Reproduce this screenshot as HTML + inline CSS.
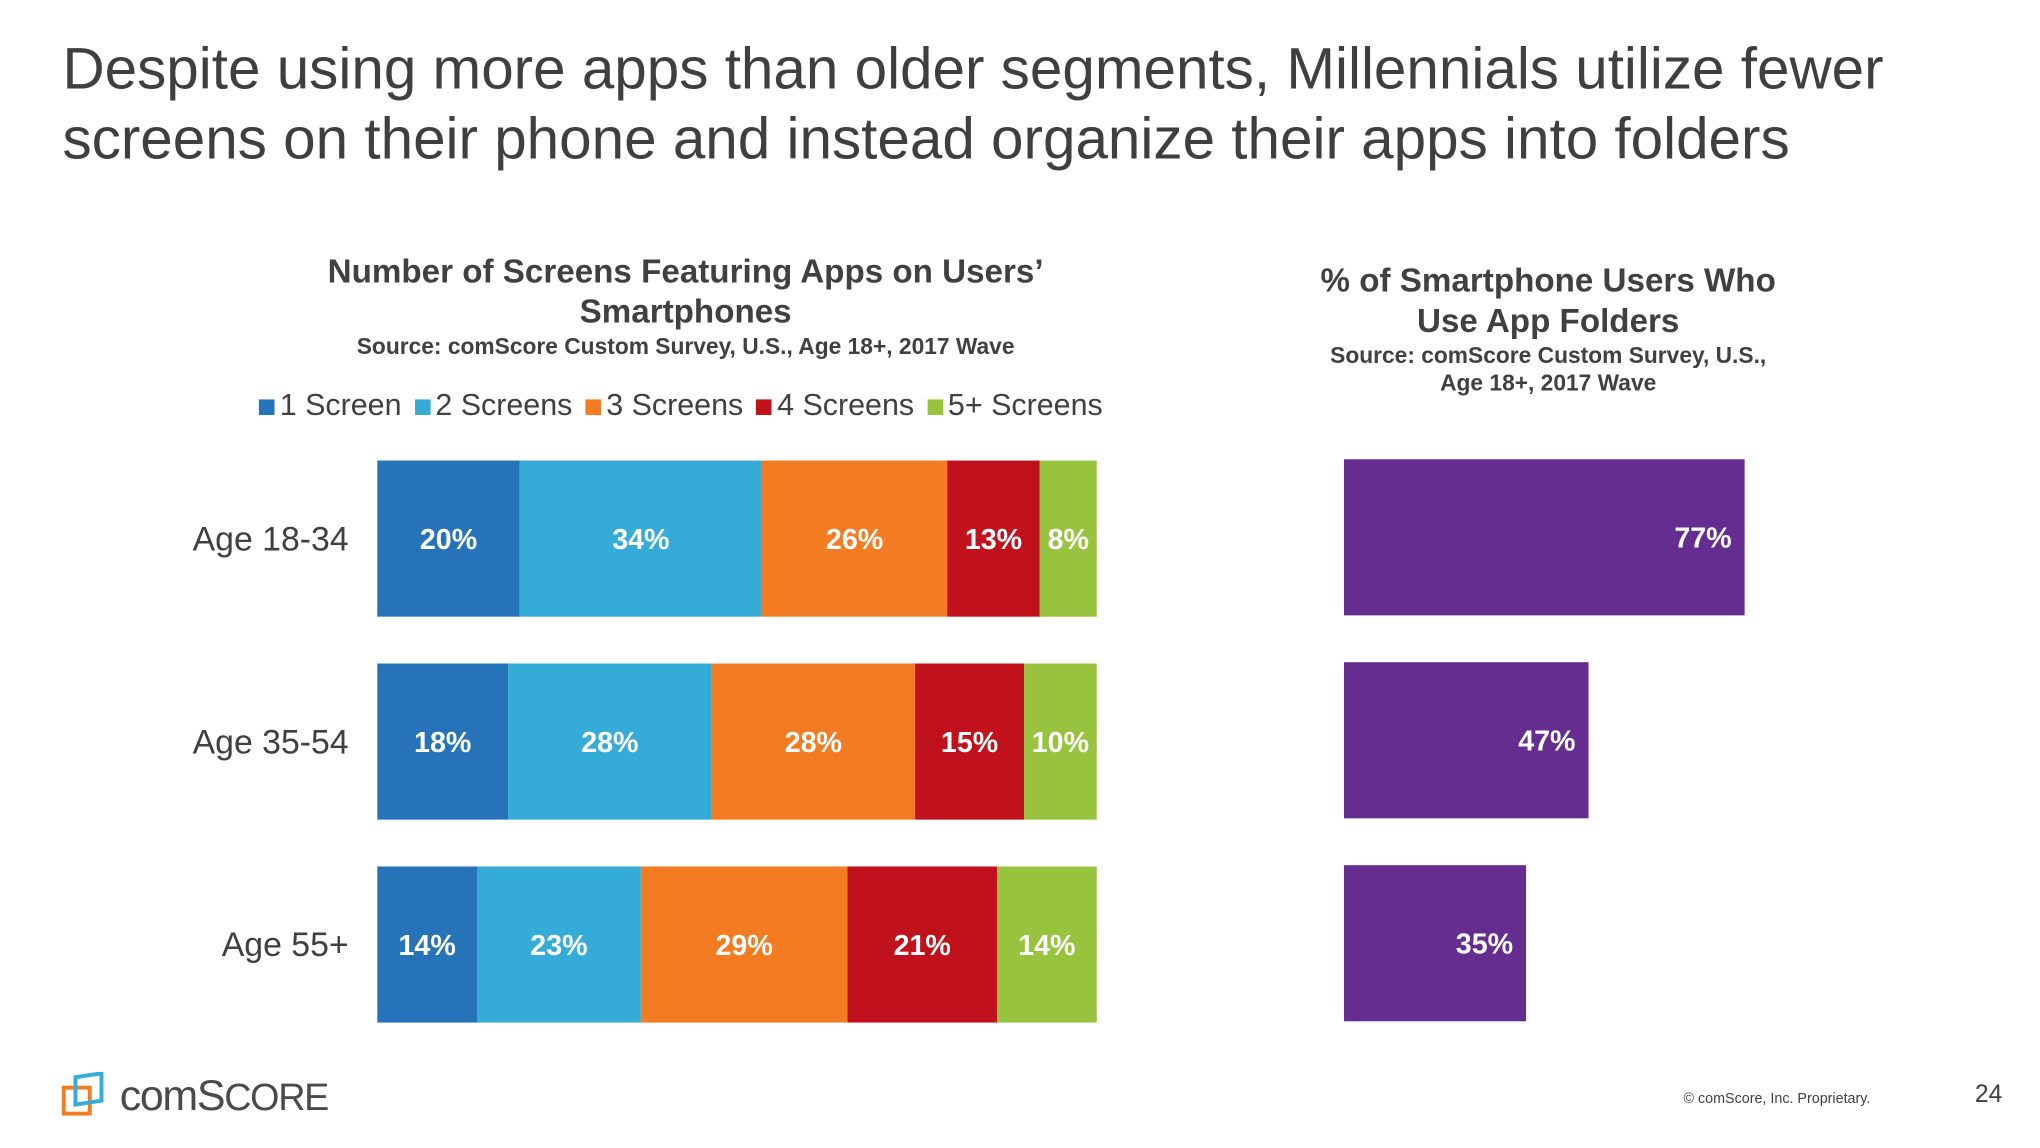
<!DOCTYPE html>
<html><head><meta charset="utf-8"><style>
html,body{margin:0;padding:0;width:2040px;height:1148px;overflow:hidden;background:#fff}
#s{position:absolute;left:0;top:0;width:1568px;height:882px;transform:scale(1.301);transform-origin:0 0;font-family:"Liberation Sans",sans-serif;color:#404040}
.a{position:absolute;white-space:nowrap}
.c{text-align:center;transform:translateX(-50%)}
</style></head><body><div id="s">
<div class="a" style="left:48px;top:26px;font-size:44.9px;line-height:54px;color:#3f3f3f">Despite using more apps than older segments, Millennials utilize fewer<br>screens on their phone and instead organize their apps into folders</div>
<div class="a c" style="left:527px;top:194px;font-size:25.5px;line-height:31px;font-weight:bold">Number of Screens Featuring Apps on Users’<br>Smartphones</div>
<div class="a c" style="left:527px;top:256px;font-size:17.5px;font-weight:bold">Source: comScore Custom Survey, U.S., Age 18+, 2017 Wave</div>
<div class="a c" style="left:1190px;top:201px;font-size:25.5px;line-height:31px;font-weight:bold">% of Smartphone Users Who<br>Use App Folders</div>
<div class="a c" style="left:1190px;top:263px;font-size:17.5px;line-height:21px;font-weight:bold">Source: comScore Custom Survey, U.S.,<br>Age 18+, 2017 Wave</div>
<div id="legend" class="a" style="left:199px;top:298px;font-size:23.4px;display:flex;gap:10px"></div>
<svg id="ch" class="a" style="left:0;top:0" width="1568" height="882"></svg>
<svg class="a" style="left:46px;top:824px" width="40" height="36"><rect x="3" y="12" width="20" height="20" fill="none" stroke="#F37B22" stroke-width="3"/><path d="M12 4 L32 1 L32 22 L12 25 Z" fill="none" stroke="#35ACD7" stroke-width="3"/></svg>
<div class="a" style="left:92px;top:823px;font-size:33px;color:#4a4a4a;letter-spacing:-1px">comS<span style="font-size:29px">CORE</span></div>
<div class="a" style="left:1294px;top:839px;font-size:11px">© comScore, Inc. Proprietary.</div>
<div class="a" style="left:1518px;top:831px;font-size:19px">24</div>
</div>
<script>
const categories=["Age 18-34","Age 35-54","Age 55+"];
const seriesNames=["1 Screen","2 Screens","3 Screens","4 Screens","5+ Screens"];
const s1=[20,18,14];
const s2=[34,28,23];
const s3=[26,28,29];
const s4=[13,15,21];
const s5=[8,10,14];
const folders=[77,47,35];
const colors=["#2773BA","#35ACD7","#F37B22","#C1111C","#97C33E"];
const series=[s1,s2,s3,s4,s5];
const NS="http://www.w3.org/2000/svg";
const svg=document.getElementById('ch');
const x0=290,W=553,top0=354,step=156,bh=120;
const rx0=1033,rpx=4;
function y(i){return top0+i*step;}
const lg=document.getElementById('legend');
seriesNames.forEach((n,k)=>{const d=document.createElement('span');


d.innerHTML='<span style="display:inline-block;width:12px;height:12px;background:'+colors[k]+';margin-right:4px"></span>'+n;lg.appendChild(d);});
function t(x,yy,txt,attrs){const e=document.createElementNS(NS,'text');e.setAttribute('x',x);e.setAttribute('y',yy);for(const k in attrs)e.setAttribute(k,attrs[k]);e.textContent=txt;svg.appendChild(e);return e;}
categories.forEach((c,i)=>{
 const total=series.reduce((a,s)=>a+s[i],0);
 let cx=x0;
 const lab=t(268,y(i)+bh/2+9,c,{'text-anchor':'end','font-size':26,fill:'#404040','font-family':'Liberation Sans'});
 
 
 series.forEach((s,k)=>{const w=s[i]/total*W;
  const r=document.createElementNS(NS,'rect');r.setAttribute('x',cx);r.setAttribute('y',y(i));r.setAttribute('width',w);r.setAttribute('height',bh);r.setAttribute('fill',colors[k]);
  
  
  svg.appendChild(r);
  const v=t(cx+w/2,y(i)+bh/2+8,s[i]+'%',{'text-anchor':'middle','font-size':22,'font-weight':'bold',fill:'#fff','font-family':'Liberation Sans'});
  
  
  cx+=w;});
 const fw=folders[i]*rpx;
 const r=document.createElementNS(NS,'rect');r.setAttribute('x',rx0);r.setAttribute('y',y(i)-1);r.setAttribute('width',fw);r.setAttribute('height',bh);r.setAttribute('fill','#652D90');
 
 
 svg.appendChild(r);
 const v=t(rx0+fw-10,y(i)+bh/2+7,folders[i]+'%',{'text-anchor':'end','font-size':22,'font-weight':'bold',fill:'#fff','font-family':'Liberation Sans'});
 
 
});
</script></body></html>
